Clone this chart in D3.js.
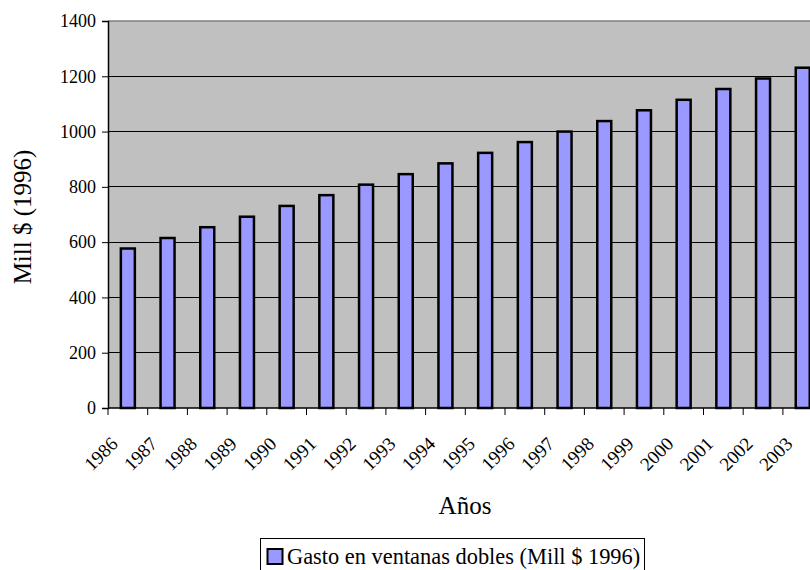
<!DOCTYPE html>
<html>
<head>
<meta charset="utf-8">
<script src="https://cdn.jsdelivr.net/npm/d3@7"></script>
<style>
  html, body { margin: 0; padding: 0; background: #fff; }
  svg { display: block; }
  svg text { font-family: "Liberation Serif", "Times New Roman", "DejaVu Serif", serif; fill: #000; }
</style>
</head>
<body>
<svg id="chart" width="810" height="570"></svg>
<script>
// Gasto anual en ventanas dobles, millones de dólares de 1996
const years = ["1986", "1987", "1988", "1989", "1990", "1991", "1992", "1993", "1994",
               "1995", "1996", "1997", "1998", "1999", "2000", "2001", "2002", "2003"];
const gasto = [577, 615, 654, 692, 731, 770, 808, 846, 885,
               923, 962, 1000, 1038, 1077, 1115, 1154, 1192, 1231];
const yTicks = [0, 200, 400, 600, 800, 1000, 1200, 1400];
const seriesName = "Gasto en ventanas dobles (Mill $ 1996)";
const xTitle = "Años";
const yTitle = "Mill $ (1996)";

const svg = d3.select("#chart");

const plotLeft = 108, plotTop = 21, plotBottom = 408;
const step = 39.7;
const plotRight = plotLeft + step * years.length; // plot runs past the right edge of the page

const x = d3.scaleBand().domain(years).range([plotLeft, plotRight]).padding(0);
const y = d3.scaleLinear().domain([0, 1400]).range([plotBottom, plotTop]);

// plot area background
svg.append("rect")
  .attr("x", plotLeft).attr("y", plotTop)
  .attr("width", plotRight - plotLeft).attr("height", plotBottom - plotTop)
  .attr("fill", "#c0c0c0");

// horizontal gridlines
svg.append("g")
  .selectAll("line")
  .data(yTicks.filter(t => t > 0 && t < 1400))
  .join("line")
  .attr("x1", plotLeft).attr("x2", plotRight)
  .attr("y1", d => y(d)).attr("y2", d => y(d))
  .attr("stroke", "#000").attr("stroke-width", 1)
  .attr("shape-rendering", "crispEdges");

// top border of plot area
svg.append("line")
  .attr("x1", plotLeft).attr("x2", plotRight)
  .attr("y1", y(1400)).attr("y2", y(1400))
  .attr("stroke", "#808080").attr("stroke-width", 1.5);

// bars
const barW = 14;
svg.append("g")
  .selectAll("rect")
  .data(years.map((yr, i) => ({ yr, v: gasto[i] })))
  .join("rect")
  .attr("x", d => x(d.yr) + x.bandwidth() / 2 - barW / 2)
  .attr("y", d => y(d.v))
  .attr("width", barW)
  .attr("height", d => y(0) - y(d.v))
  .attr("fill", "#9999ff")
  .attr("stroke", "#000")
  .attr("stroke-width", 2.5);

// y axis
const yAxis = d3.axisLeft(y).tickValues(yTicks).tickSize(6).tickPadding(6).tickFormat(d3.format("d"));
const gy = svg.append("g")
  .attr("transform", `translate(${plotLeft},0)`)
  .call(yAxis)
  .attr("font-family", null)
  .attr("font-size", 18);
gy.select(".domain").attr("stroke", "#000").attr("stroke-width", 1.5);
gy.selectAll(".tick line").attr("stroke", "#000");
gy.selectAll(".tick text").attr("fill", "#000");

// x axis: ticks at category boundaries
svg.append("line")
  .attr("x1", plotLeft).attr("x2", plotRight)
  .attr("y1", plotBottom).attr("y2", plotBottom)
  .attr("stroke", "#000").attr("stroke-width", 1.5);

svg.append("g")
  .selectAll("line")
  .data(years)
  .join("line")
  .attr("x1", d => x(d)).attr("x2", d => x(d))
  .attr("y1", plotBottom).attr("y2", plotBottom + 7)
  .attr("stroke", "#000").attr("stroke-width", 1);

// rotated year labels
svg.append("g")
  .selectAll("text")
  .data(years)
  .join("text")
  .attr("transform", d => `translate(${x(d) + x.bandwidth() / 2 - 9},${plotBottom + 37}) rotate(-45)`)
  .attr("text-anchor", "end")
  .attr("font-size", 19)
  .text(d => d);

// axis titles
svg.append("text")
  .attr("x", 465).attr("y", 514)
  .attr("text-anchor", "middle")
  .attr("font-size", 25)
  .text(xTitle);

svg.append("text")
  .attr("transform", "translate(31,217) rotate(-90)")
  .attr("text-anchor", "middle")
  .attr("font-size", 25)
  .text(yTitle);

// legend
const lg = svg.append("g");
lg.append("rect")
  .attr("x", 260.5).attr("y", 538.5)
  .attr("width", 384).attr("height", 40)
  .attr("fill", "#fff").attr("stroke", "#000").attr("stroke-width", 1);
lg.append("rect")
  .attr("x", 267.5).attr("y", 549)
  .attr("width", 15).attr("height", 15)
  .attr("fill", "#9999ff").attr("stroke", "#000").attr("stroke-width", 2);
lg.append("text")
  .attr("x", 287).attr("y", 564)
  .attr("font-size", 22.4)
  .text(seriesName);
</script>
</body>
</html>
